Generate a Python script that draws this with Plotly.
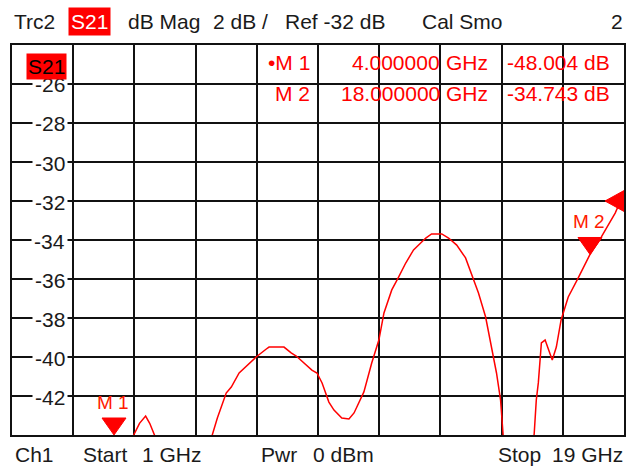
import plotly.graph_objects as go

# ---------------- data ----------------
freq_ghz = [1.0, 2.0, 3.0, 3.5, 4.0, 4.3, 4.58, 4.75, 4.93, 5.05, 5.19, 5.4, 5.8, 6.2, 6.6, 6.89,
            7.04, 7.30, 7.45, 7.68, 7.83, 8.18, 8.48, 8.56, 9.00, 9.21, 9.36, 9.65, 9.82, 9.97,
            10.12, 10.32, 10.47, 10.70, 10.91, 11.06, 11.20, 11.35, 11.58, 11.79, 11.94, 12.17,
            12.37, 12.58, 12.81, 13.17, 13.34, 13.64, 13.84, 14.08, 14.34, 14.57, 14.72, 14.93,
            15.10, 15.25, 15.37, 15.42, 15.45, 15.55, 15.8, 16.1, 16.3, 16.36, 16.42, 16.48,
            16.57, 16.68, 16.89, 17.01, 17.15, 17.36, 17.65, 18.00, 18.33, 18.74, 18.91, 19.0]
s21_db = [-55.0, -52.0, -50.0, -49.0, -48.0, -46.0, -44.0, -43.4, -43.03, -43.4, -44.0, -46.0, -48.0, -48.0, -46.0, -44.0,
          -43.13, -41.85, -41.54, -40.82, -40.56, -40.0, -39.59, -39.49, -39.49, -39.79, -39.95, -40.41, -40.67, -40.82,
          -41.33, -42.31, -42.72, -43.13, -43.18, -42.87, -42.31, -41.79, -40.31, -39.13, -37.74, -36.56,
          -35.90, -35.18, -34.51, -33.90, -33.69, -33.69, -33.90, -34.26, -34.92, -35.95, -36.72, -37.95,
          -39.49, -40.82, -42.21, -43.59, -44.0, -46.5, -50.0, -48.0, -45.0, -43.9, -42.21, -41.33,
          -39.28, -39.13, -40.15, -39.49, -38.10, -36.92, -35.95, -34.743, -33.85, -32.62, -31.95, -31.69]

marker_names = ["M 1", "M 2"]
marker_freqs = [4.0, 18.0]
marker_vals = [-48.004, -34.743]
marker_freq_text = ["4.000000", "18.000000"]
marker_val_text = ["-48.004 dB", "-34.743 dB"]

y_tick_vals = [-26, -28, -30, -32, -34, -36, -38, -40, -42]
y_tick_text = ["-26", "-28", "-30", "-32", "-34", "-36", "-38", "-40", "-42"]

start_ghz, stop_ghz = 1.0, 19.0
ref_db, db_per_div = -32, 2
y_top, y_bottom = -24, -44

header_parts = ["Trc2", "S21", "dB Mag", "2 dB /", "Ref -32 dB", "Cal Smo", "2"]
footer_parts = ["Ch1", "Start", "1 GHz", "Pwr", "0 dBm", "Stop", "19 GHz"]

# ---------------- layout helpers ----------------
W, H = 634, 466
L, R, T, B = 12, 626, 45, 435
FONT = "Liberation Sans, Arial, sans-serif"
RED = "#ff0000"
TXT = "#1a1a1a"
FS = 21


def px(x):
    return (x - L) / (R - L)


def py(y):
    return (B - y) / (B - T)


fig = go.Figure()

fig.add_trace(go.Scatter(x=freq_ghz, y=s21_db, mode="lines",
                         line=dict(color=RED, width=1.5), hoverinfo="skip",
                         showlegend=False))

annotations = []
shapes = []


def text(x, y, s, anchor="left", color=TXT, size=FS, **kw):
    annotations.append(dict(x=px(x), y=py(y), xref="paper", yref="paper", text=s,
                            showarrow=False, xanchor=anchor, yanchor="middle",
                            font=dict(family=FONT, size=size, color=color), **kw))


# header
text(12, 21, header_parts[0])
text(68, 21, header_parts[1], color="white", bgcolor=RED, borderpad=2)
text(126, 21, header_parts[2])
text(212, 21, header_parts[3])
text(284, 21, header_parts[4])
text(421, 21, header_parts[5])
text(627, 21, header_parts[6], anchor="right")

# footer
text(13, 454, footer_parts[0])
text(81, 454, footer_parts[1])
text(140, 454, footer_parts[2])
text(260, 454, footer_parts[3])
text(312, 454, footer_parts[4])
text(498, 454, footer_parts[5])
text(552, 454, footer_parts[6])

# y tick labels inside first column (white background breaks grid line)
for v, s in zip(y_tick_vals, y_tick_text):
    yy = T + (y_top - v) / db_per_div * (B - T) / 10
    text(68, yy + 1, s, anchor="right", bgcolor="white", borderpad=2)

# trace label box
text(26, 66, "S21", color="black", bgcolor=RED, borderpad=1)

# marker table
rows_y = [63, 93]
for i in range(2):
    name = ("\u2022" if i == 0 else "") + marker_names[i]
    text(313, rows_y[i], name, anchor="right", color=RED)
    text(443, rows_y[i], marker_freq_text[i], anchor="right", color=RED)
    text(445, rows_y[i], "GHz", color=RED)
    text(614, rows_y[i], marker_val_text[i], anchor="right", color=RED)

# markers (triangles + labels)
for name, f, v in zip(marker_names, marker_freqs, marker_vals):
    vv = min(max(v, y_bottom), y_top)
    shapes.append(dict(type="path", xref="x", yref="y", xsizemode="pixel", ysizemode="pixel",
                       xanchor=f, yanchor=vv, path="M -12 17 L 12 17 L 0 0 Z",
                       fillcolor=RED, line=dict(color=RED, width=1), layer="above"))
    annotations.append(dict(x=f, y=vv, xref="x", yref="y", text=name, showarrow=False,
                            xanchor="center", yanchor="middle", yshift=33, xshift=-1,
                            font=dict(family=FONT, size=19, color="#ff1a00")))

# reference level arrow on right edge
shapes.append(dict(type="path", xref="x", yref="y", xsizemode="pixel", ysizemode="pixel",
                   xanchor=stop_ghz, yanchor=ref_db, path="M -19 0 L 1 11 L 1 -11 Z",
                   fillcolor=RED, line=dict(color=RED, width=1), layer="above"))

grid_x = [start_ghz + (stop_ghz - start_ghz) * i / 10 for i in range(1, 10)]
grid_y = [y_top - db_per_div * i for i in range(1, 10)]

fig.update_layout(
    width=W, height=H,
    margin=dict(l=L, r=W - R, t=T, b=H - B, pad=0),
    paper_bgcolor="white", plot_bgcolor="white",
    annotations=annotations, shapes=shapes,
    xaxis=dict(range=[start_ghz, stop_ghz], tickvals=grid_x, showticklabels=False, ticks="",
               showgrid=True, gridcolor="#111111", gridwidth=2, zeroline=False,
               showline=True, linecolor="#111111", linewidth=2, mirror=True, fixedrange=True),
    yaxis=dict(range=[y_bottom, y_top], tickvals=grid_y, showticklabels=False, ticks="",
               showgrid=True, gridcolor="#111111", gridwidth=2, zeroline=False,
               showline=True, linecolor="#111111", linewidth=2, mirror=True, fixedrange=True),
    showlegend=False,
)

fig.write_html("out.html", config={"displayModeBar": False},
               post_script="document.body.style.margin='0';document.body.style.padding='0';")
